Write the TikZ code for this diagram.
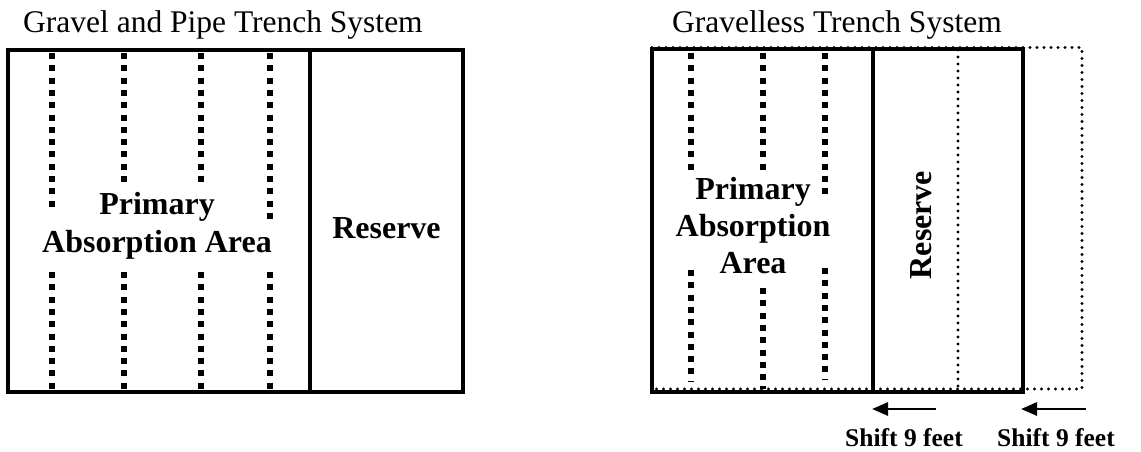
\documentclass[tikz,border=0pt]{standalone}
\usepackage{fontspec}
\setmainfont{Liberation Serif}
\usetikzlibrary{arrows.meta}
\begin{document}
\begin{tikzpicture}[x=1pt,y=-1pt,
  frame/.style={line width=3.8pt,line cap=rect},
  divider/.style={line width=3.2pt},
  pipe/.style={line width=5.8pt,dash pattern=on 6pt off 6.3pt,line cap=butt},
  dotline/.style={line width=3.3pt,dash pattern=on 0pt off 7pt,line cap=round},
  title/.style={font=\fontsize{31.5}{36}\selectfont,anchor=base west,inner sep=0pt},
  label/.style={font=\fontsize{32}{38}\selectfont\bfseries,align=center,inner sep=0pt},
  shiftlbl/.style={font=\fontsize{25.5}{30}\selectfont\bfseries,anchor=base,inner sep=0pt},
  shiftarrow/.style={line width=2.8pt,-{Triangle[length=16pt,width=13pt]}}]
\useasboundingbox (0,0) rectangle (1141,451);

% ---------- gravel and pipe trench system ----------
\node[title] (t1) at (23,32) {Gravel and Pipe Trench System};
\draw[frame] (8,50) rectangle (463,392);
\draw[divider] (310,50) -- (310,392);
% distribution pipes
\foreach \x/\e in {52/210,124/185,201/185,270/222}{
  \draw[pipe] (\x,53) -- (\x,\e);
  \draw[pipe] (\x,272) -- (\x,389);
}
\node[label,anchor=base] (p1) at (157,214) {Primary};
\node[label,anchor=base] (a1) at (157,252) {Absorption Area};
\node[label,anchor=base] (r1) at (386.5,238) {Reserve};

% ---------- gravelless trench system ----------
\node[title] (t2) at (672,32) {Gravelless Trench System};
% shifted outlines
\draw[dotline] (652,47.5) -- (1082,47.5) -- (1082,389) -- (652,389);
\draw[dotline] (958,50) -- (958,392);
% current layout
\draw[frame] (1023,49) -- (652,49) -- (652,392) -- (1023,392);
\draw[divider] (1023,49) -- (1023,392);
\draw[divider] (873,49) -- (873,392);
% distribution pipes
\foreach \x/\e/\s/\f in {691/172/270/382,763/172/288/389,825/197/268/380}{
  \draw[pipe] (\x,53) -- (\x,\e);
  \draw[pipe] (\x,\s) -- (\x,\f);
}
\node[label,anchor=base] (p2) at (753,199) {Primary};
\node[label,anchor=base] (a2) at (753,236) {Absorption};
\node[label,anchor=base] (ar2) at (753,273) {Area};
\node[label,rotate=90] (r2) at (921,225) {Reserve};

% shift arrows and labels
\coordinate (s1from) at (936,409);
\coordinate (s1to) at (872,409);
\coordinate (s2from) at (1086,409);
\coordinate (s2to) at (1021,409);
\draw[shiftarrow] (s1from) -- (s1to);
\draw[shiftarrow] (s2from) -- (s2to);
\node[shiftlbl] (l1) at (904,446) {Shift 9 feet};
\node[shiftlbl] (l2) at (1056,446) {Shift 9 feet};
\end{tikzpicture}
\end{document}
